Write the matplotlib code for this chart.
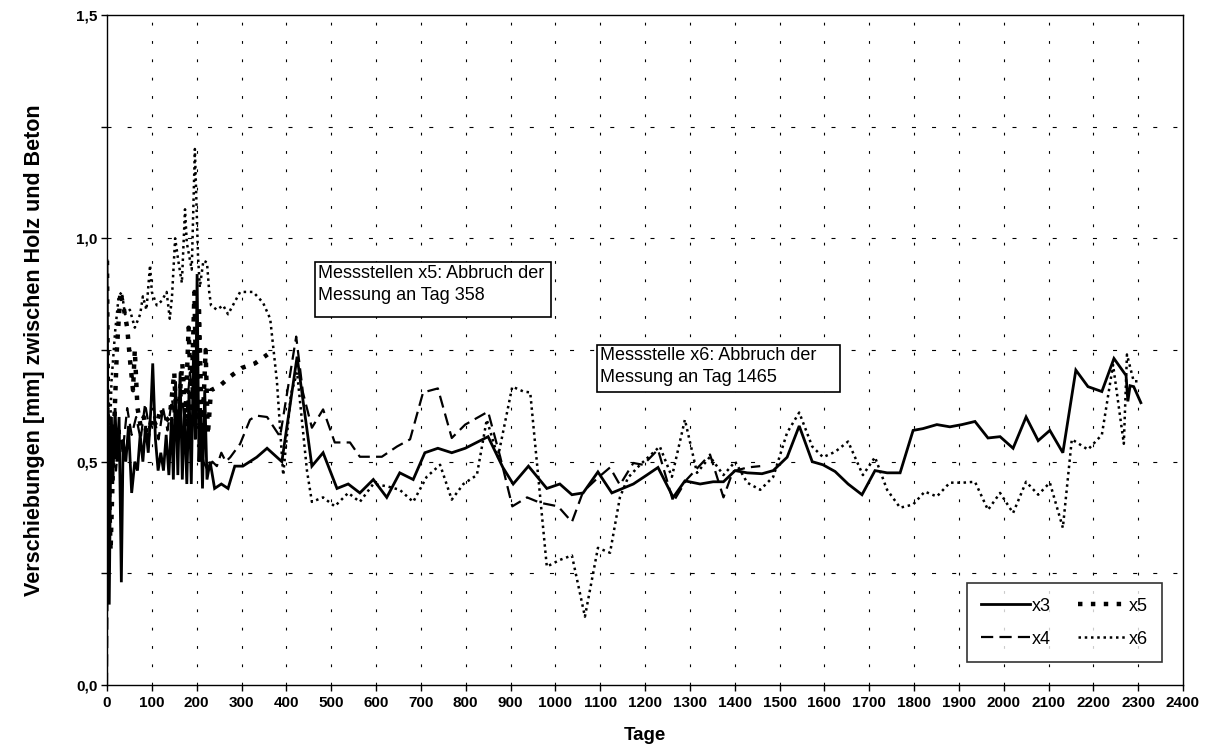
import matplotlib
matplotlib.use("Agg")
import matplotlib.pyplot as plt
from matplotlib import font_manager
from matplotlib.patches import Rectangle
from matplotlib.ticker import MultipleLocator, FuncFormatter

# ---------------- data ----------------
x3_days = [0, 2, 5, 9, 13, 18, 22, 27, 32, 36, 42, 48, 55, 62, 68, 74, 80, 86, 92, 98,
           102, 108, 114, 120, 126, 132, 138, 144, 148, 153, 158, 163, 168, 173, 178, 183,
           188, 193, 197, 201, 205, 209, 213, 218, 223, 230, 240, 255, 270, 285, 303, 334,
           357, 390, 424, 457, 482, 513, 538, 564, 594, 624, 653, 683, 709, 738, 769, 799,
           850, 883, 906, 940, 981, 1010, 1037, 1062, 1095, 1126, 1174, 1204, 1229, 1263,
           1289, 1323, 1352, 1375, 1401, 1428, 1461, 1486, 1517, 1544, 1573, 1597, 1624,
           1653, 1684, 1713, 1740, 1769, 1798, 1820, 1851, 1880, 1907, 1936, 1965, 1992,
           2021, 2050, 2077, 2103, 2132, 2161, 2188, 2219, 2246, 2273, 2277, 2282, 2290, 2306]
x3_vals = [0.95, 0.60, 0.18, 0.60, 0.45, 0.62, 0.50, 0.60, 0.23, 0.55, 0.50, 0.58, 0.43, 0.50,
           0.48, 0.56, 0.50, 0.58, 0.52, 0.62, 0.72, 0.55, 0.48, 0.52, 0.48, 0.56, 0.47, 0.60,
           0.46, 0.68, 0.47, 0.70, 0.46, 0.62, 0.45, 0.66, 0.45, 0.75, 0.55, 0.92, 0.50, 0.62,
           0.44, 0.66, 0.46, 0.50, 0.44, 0.45, 0.44, 0.49, 0.49, 0.51, 0.53, 0.50, 0.735, 0.49,
           0.52, 0.44, 0.45, 0.43, 0.46, 0.42, 0.475, 0.46, 0.52, 0.53, 0.52, 0.53, 0.556,
           0.487, 0.45, 0.49, 0.44, 0.45, 0.426, 0.43, 0.477, 0.43, 0.45, 0.47, 0.487, 0.42,
           0.457, 0.45, 0.455, 0.455, 0.48, 0.475, 0.473, 0.48, 0.51, 0.58, 0.50, 0.493, 0.478,
           0.45, 0.426, 0.48, 0.475, 0.475, 0.57, 0.574, 0.583, 0.578, 0.583, 0.59, 0.553,
           0.556, 0.53, 0.60, 0.547, 0.57, 0.52, 0.705, 0.668, 0.657, 0.731, 0.693, 0.635,
           0.67, 0.668, 0.632]

x4_days = [0, 3, 8, 14, 20, 28, 35, 45, 55, 65, 75, 85, 95, 105, 115, 125, 135, 145, 155,
           165, 175, 185, 195, 205, 215, 225, 235, 245, 255, 265, 275, 297, 319, 334, 357,
           386, 422, 437, 457, 482, 508, 542, 564, 613, 647, 676, 705, 738, 769, 799, 850,
           877, 904, 937, 966, 1006, 1037, 1062, 1095, 1122, 1144, 1174, 1196, 1229, 1263,
           1293, 1345, 1375, 1396, 1428, 1457]
x4_vals = [0.0, 0.62, 0.50, 0.58, 0.48, 0.57, 0.52, 0.62, 0.56, 0.60, 0.55, 0.63, 0.57, 0.60,
           0.55, 0.62, 0.57, 0.64, 0.56, 0.66, 0.58, 0.70, 0.60, 0.58, 0.50, 0.48, 0.50, 0.49,
           0.52, 0.50, 0.51, 0.54, 0.594, 0.603, 0.60, 0.556, 0.78, 0.655, 0.576, 0.617, 0.543,
           0.543, 0.511, 0.511, 0.534, 0.55, 0.655, 0.664, 0.553, 0.583, 0.612, 0.511, 0.40,
           0.42, 0.408, 0.40, 0.365, 0.433, 0.464, 0.487, 0.448, 0.497, 0.493, 0.527, 0.41,
           0.46, 0.516, 0.42, 0.478, 0.487, 0.49]

x5_days = [0, 3, 8, 15, 22, 30, 38, 45, 52, 58, 62, 68, 75, 82, 90, 100, 110, 120, 130, 140,
           150, 155, 160, 168, 175, 182, 188, 195, 200, 205, 212, 220, 225, 232, 252, 274,
           301, 330, 358]
x5_vals = [0.95, 0.50, 0.30, 0.55, 0.75, 0.88, 0.84, 0.80, 0.72, 0.66, 0.75, 0.62, 0.58, 0.60,
           0.55, 0.60, 0.58, 0.62, 0.59, 0.60, 0.70, 0.58, 0.62, 0.72, 0.60, 0.80, 0.62, 0.88,
           0.60, 0.85, 0.55, 0.75, 0.56, 0.66, 0.67, 0.69, 0.71, 0.72, 0.74]

x6_days = [0, 5, 10, 18, 26, 33, 40, 51, 62, 74, 80, 88, 96, 100, 111, 122, 133, 140, 145,
           152, 159, 167, 174, 178, 189, 196, 203, 207, 215, 223, 228, 232, 245, 259, 270,
           297, 326, 348, 364, 379, 393, 410, 424, 446, 457, 482, 508, 538, 564, 594, 624,
           653, 683, 713, 743, 769, 795, 825, 847, 872, 904, 929, 944, 981, 1010, 1037, 1066,
           1095, 1122, 1144, 1162, 1189, 1233, 1260, 1289, 1316, 1345, 1375, 1401, 1428, 1457,
           1486, 1517, 1544, 1573, 1597, 1624, 1653, 1686, 1713, 1740, 1769, 1798, 1824, 1851,
           1880, 1910, 1936, 1965, 1992, 2021, 2050, 2077, 2103, 2132, 2152, 2188, 2219, 2244,
           2268, 2275, 2290, 2304]
x6_vals = [0.60, 0.50, 0.68, 0.79, 0.87, 0.88, 0.83, 0.84, 0.80, 0.83, 0.87, 0.84, 0.94, 0.88,
           0.85, 0.86, 0.88, 0.82, 0.87, 1.00, 0.95, 0.90, 1.065, 0.99, 0.93, 1.20, 0.96, 0.89,
           0.95, 0.946, 0.88, 0.85, 0.84, 0.85, 0.83, 0.88, 0.88, 0.856, 0.82, 0.68, 0.47,
           0.65, 0.70, 0.48, 0.41, 0.42, 0.40, 0.43, 0.41, 0.45, 0.445, 0.437, 0.41, 0.466,
           0.493, 0.415, 0.45, 0.47, 0.594, 0.51, 0.668, 0.657, 0.655, 0.265, 0.28, 0.29,
           0.153, 0.307, 0.296, 0.42, 0.464, 0.493, 0.534, 0.466, 0.594, 0.475, 0.511, 0.47,
           0.50, 0.453, 0.437, 0.466, 0.565, 0.61, 0.534, 0.51, 0.522, 0.545, 0.47, 0.51,
           0.437, 0.397, 0.404, 0.433, 0.422, 0.453, 0.453, 0.455, 0.392, 0.43, 0.385, 0.455,
           0.426, 0.453, 0.352, 0.55, 0.527, 0.56, 0.717, 0.54, 0.74, 0.68, 0.68]

series_labels = ["x3", "x4", "x5", "x6"]
note_1 = "Messstellen x5: Abbruch der\nMessung an Tag 358"
note_2 = "Messstelle x6: Abbruch der\nMessung an Tag 1465"
x_label = "Tage"
y_label = "Verschiebungen [mm] zwischen Holz und Beton"

# ---------------- fonts ----------------
names = {f.name for f in font_manager.fontManager.ttflist}
base_font = "Liberation Sans" if "Liberation Sans" in names else "DejaVu Sans"
narrow_font = "Liberation Sans Narrow" if "Liberation Sans Narrow" in names else base_font
plt.rcParams["font.family"] = [base_font, "DejaVu Sans"]

# ---------------- figure ----------------
fig = plt.figure(figsize=(12.09, 7.54), dpi=100)
ax = fig.add_axes([107 / 1209, 1 - 685 / 754, 1076 / 1209, 670 / 754])

ax.plot(x3_days, x3_vals, color="black", lw=2.0, linestyle="-", label=series_labels[0],
        solid_joinstyle="miter")
ax.plot(x4_days, x4_vals, color="black", lw=1.6, linestyle=(0, (5.5, 2.8)), label=series_labels[1])
ax.plot(x5_days, x5_vals, color="black", lw=3.2, linestyle=(0, (1, 1.9)), label=series_labels[2],
        dash_capstyle="butt")
ax.plot(x6_days, x6_vals, color="black", lw=1.8, linestyle=(0, (1, 1.5)), label=series_labels[3],
        dash_capstyle="butt")

ax.set_xlim(0, 2400)
ax.set_ylim(0, 1.5)
ax.xaxis.set_major_locator(MultipleLocator(100))
ax.yaxis.set_major_locator(MultipleLocator(0.25))
ax.yaxis.set_major_formatter(FuncFormatter(
    lambda v, p: (f"{v:.1f}".replace(".", ",") if abs(v / 0.5 - round(v / 0.5)) < 1e-6 else "")))

# grids
for d in range(100, 2400, 100):
    ax.axvline(d, color="black", lw=0.8, linestyle=(0, (2.5, 14)), zorder=0)
for v in [0.25, 0.5, 0.75, 1.0, 1.25]:
    ax.axhline(v, color="black", lw=0.8, linestyle=(0, (3.6, 14.5)), zorder=0)

for s in ax.spines.values():
    s.set_linewidth(1.0)
    s.set_color("black")

ax.tick_params(axis="both", direction="out", length=4, width=1.0, colors="black")
ax.tick_params(axis="x", pad=4)
ax.tick_params(axis="y", pad=3)
for lab in ax.get_xticklabels():
    lab.set_fontfamily([narrow_font, "DejaVu Sans"])
    lab.set_fontweight("bold")
    lab.set_fontsize(11)
for lab in ax.get_yticklabels():
    lab.set_fontfamily([base_font, "DejaVu Sans"])
    lab.set_fontweight("bold")
    lab.set_fontsize(11)

ax.set_xlabel(x_label, fontsize=13.5, fontweight="bold", labelpad=12,
              fontfamily=[narrow_font, "DejaVu Sans"])
ax.set_ylabel(y_label, fontsize=15.5, fontweight="bold", labelpad=22)

# annotation boxes
ax.add_patch(Rectangle((464, 0.823), 526, 0.125, fill=True, facecolor="white",
                       edgecolor="black", lw=1.2, zorder=5))
ax.text(470, 0.940, note_1, fontsize=13, va="top", ha="left", zorder=6, linespacing=1.35)
ax.add_patch(Rectangle((1093, 0.655), 542, 0.107, fill=True, facecolor="white",
                       edgecolor="black", lw=1.2, zorder=5))
ax.text(1099, 0.756, note_2, fontsize=13, va="top", ha="left", zorder=6, linespacing=1.35)

leg = ax.legend(ncol=2, loc="lower right", bbox_to_anchor=(0.9805, 0.034),
                frameon=True, fancybox=False, edgecolor="black", fontsize=13,
                handlelength=2.7, handletextpad=0.1, columnspacing=1.5,
                labelspacing=0.9, borderpad=0.8, borderaxespad=0)
leg.get_frame().set_linewidth(1.2)
leg.set_zorder(7)

fig.savefig("out.png", dpi=100, facecolor="white")
